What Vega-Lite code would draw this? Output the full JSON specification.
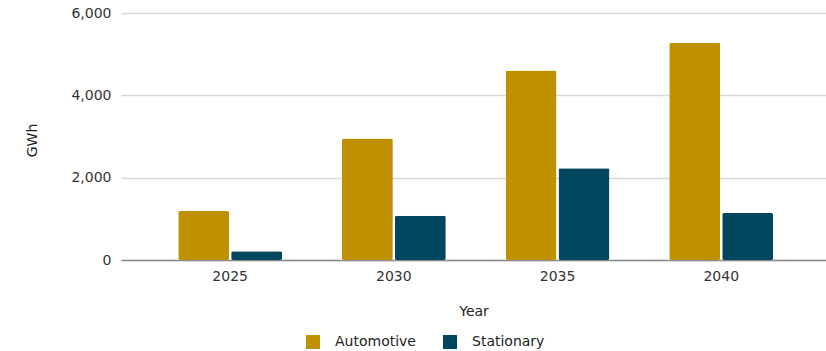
{
  "$schema": "https://vega.github.io/schema/vega-lite/v6.json",
  "width": 705,
  "height": 247,
  "autosize": {"type": "none"},
  "padding": {"left": 121, "top": 13, "right": 0, "bottom": 91},
  "background": "white",
  "config": {
    "view": {"stroke": null},
    "font": "DejaVu Sans"
  },
  "data": {
    "values": [
      {"Year": "2025", "Type": "Automotive", "GWh": 1190},
      {"Year": "2025", "Type": "Stationary", "GWh": 210},
      {"Year": "2030", "Type": "Automotive", "GWh": 2950},
      {"Year": "2030", "Type": "Stationary", "GWh": 1075},
      {"Year": "2035", "Type": "Automotive", "GWh": 4605},
      {"Year": "2035", "Type": "Stationary", "GWh": 2230},
      {"Year": "2040", "Type": "Automotive", "GWh": 5280},
      {"Year": "2040", "Type": "Stationary", "GWh": 1140}
    ]
  },
  "mark": {"type": "bar", "cornerRadius": 2},
  "encoding": {
    "x": {
      "field": "Year",
      "type": "nominal",
      "scale": {"paddingInner": 0.365, "paddingOuter": 0.336, "align": 0.52},
      "axis": {
        "labelAngle": 0,
        "labelFontSize": 14,
        "labelColor": "#333333",
        "labelPadding": 9,
        "labelBaseline": "top",
        "ticks": false,
        "domainColor": "#8c8c8c",
        "domainWidth": 1.5,
        "title": "Year",
        "titleFontSize": 14,
        "titleFontWeight": "normal",
        "titleColor": "#222222",
        "titleY": 51,
        "titleBaseline": "middle"
      }
    },
    "xOffset": {
      "field": "Type",
      "type": "nominal",
      "scale": {"paddingInner": 0.037, "paddingOuter": 0}
    },
    "y": {
      "field": "GWh",
      "type": "quantitative",
      "scale": {"domain": [0, 6000], "nice": false},
      "axis": {
        "values": [0, 2000, 4000, 6000],
        "format": ",d",
        "labelFontSize": 14,
        "labelColor": "#333333",
        "labelPadding": 10,
        "ticks": false,
        "domain": false,
        "gridColor": "#d9d9d9",
        "gridWidth": 1.5,
        "title": "GWh",
        "titleFontSize": 14,
        "titleFontWeight": "normal",
        "titleColor": "#222222",
        "titleX": -85,
        "titleY": 127,
        "titleBaseline": "alphabetic",
        "titleAngle": -90
      }
    },
    "color": {
      "field": "Type",
      "type": "nominal",
      "scale": {"domain": ["Automotive", "Stationary"], "range": ["#bf9000", "#01465f"]},
      "legend": {
        "orient": "none",
        "direction": "horizontal",
        "legendX": 185,
        "legendY": 322,
        "title": null,
        "symbolType": "square",
        "symbolSize": 196,
        "symbolStrokeWidth": 0,
        "labelFontSize": 14,
        "labelColor": "#222222",
        "labelOffset": 15,
        "columnPadding": 27
      }
    }
  }
}
